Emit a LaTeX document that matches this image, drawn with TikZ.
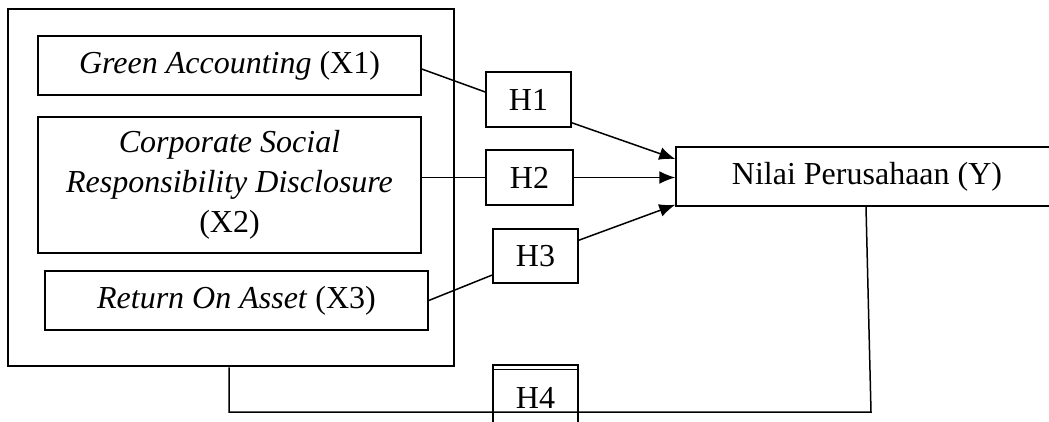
\documentclass[tikz,border=0pt]{standalone}
\usepackage{fontspec}
\setmainfont{Liberation Serif}
\usetikzlibrary{arrows.meta,calc}
\begin{document}
\begin{tikzpicture}[x=1pt,y=-1pt,
  box/.style={draw, line width=1.5pt, inner sep=0pt, font=\fontsize{32}{40}\selectfont},
  conn/.style={line width=1.5pt},
  arr/.style={conn, -{Latex[length=16pt,width=13pt]}}]
\useasboundingbox (0,0) rectangle (1049,421);
\clip (0,0) rectangle (1049,421);
\node[box, line width=2.8pt, minimum width=446pt, minimum height=357pt] (outer) at (231,187.5) {};
\node[box, minimum width=383pt, minimum height=59pt] (green) at (229.5,65.5) {\textit{Green Accounting} (X1)};
\node[box, minimum width=383pt, minimum height=136pt, align=center] (csr) at (229.5,185) {\textit{Corporate Social}\\\textit{Responsibility Disclosure}\\(X2)};
\node[box, minimum width=383pt, minimum height=59pt] (roa) at (236.5,300.5) {\textit{Return On Asset} (X3)};
\node[box, minimum width=85pt, minimum height=55pt] (h1) at (528.5,99.5) {H1};
\node[box, minimum width=87pt, minimum height=55pt] (h2) at (529.5,177.5) {H2};
\node[box, minimum width=85pt, minimum height=54pt] (h3) at (535.5,256) {H3};
\node[box, minimum width=85pt, minimum height=65pt] (h4) at (535.5,397.5) {H4};
\draw[conn] ([yshift=-5pt]h4.north west) -- ([yshift=-5pt]h4.north east);
\node[box, minimum width=382pt, minimum height=59pt] (yv) at (867,176.5) {Nilai Perusahaan (Y)};
\draw[conn] ([yshift=-3.5pt]green.east) -- ([yshift=7.5pt]h1.west);
\draw[conn] (csr.east |- h2.west) -- (h2.west);
\draw[conn] (roa.east) -- ([yshift=-19pt]h3.west);
\draw[arr] ([yshift=5pt]h1.south east) -- ([yshift=17.5pt]yv.west);
\draw[arr] (h2.east) -- (h2.east -| yv.west);
\draw[arr] ([yshift=-12pt]h3.north east) -- ([yshift=2pt]yv.south west);
\coordinate (c1) at (229,412);
\coordinate (c2) at (871,412);
\draw[conn] ([xshift=-2pt]outer.south) -- (c1) -- (c2) -- ([xshift=-1pt]yv.south);
\end{tikzpicture}
\end{document}
